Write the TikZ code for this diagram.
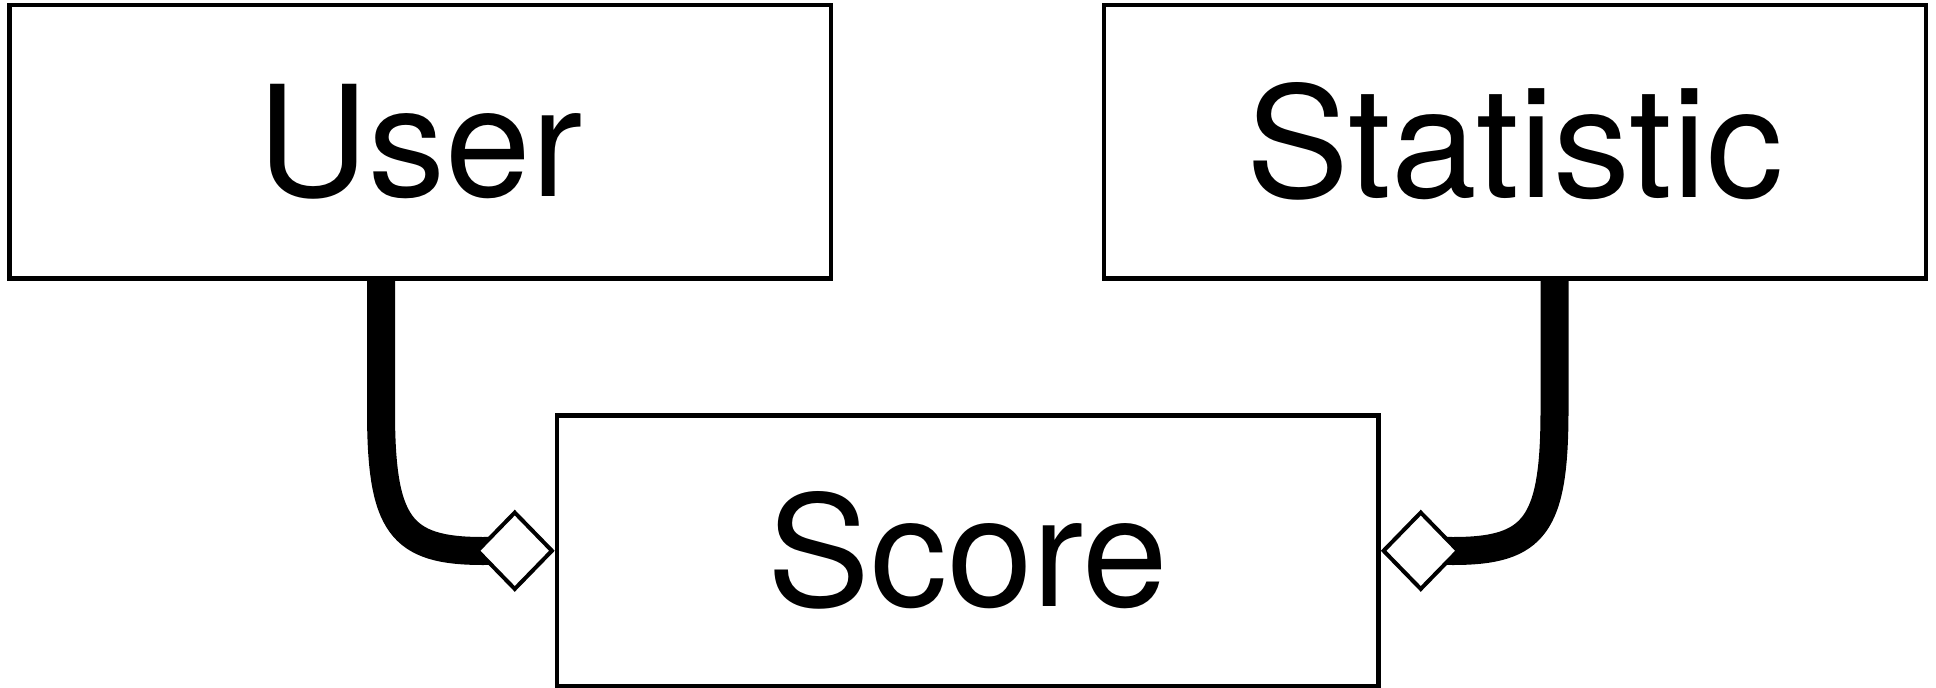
\documentclass[tikz,border=0pt]{standalone}
\usepackage{fontspec}
\setmainfont{TeX Gyre Heros}
\usetikzlibrary{shapes.geometric,backgrounds}
\begin{document}
\begin{tikzpicture}[x=1pt,y=-1pt,
  box/.style={draw=black,line width=4.5pt,fill=white,inner sep=0pt,font=\fontsize{154}{160}\selectfont},
  agg/.style={draw=black,line width=4pt,fill=white,shape=diamond,inner sep=0pt,minimum width=76pt,minimum height=78pt},
  conn/.style={draw=black,line width=28pt,line cap=butt}]
\useasboundingbox (0,0) rectangle (1936,688);
\node[box,minimum width=821.5pt,minimum height=273.5pt] (User) at (420.25,141.75) {User};
\node[box,minimum width=822pt,minimum height=273.5pt] (Statistic) at (1515,141.75) {Statistic};
\node[box,minimum width=821.5pt,minimum height=270.5pt] (Score) at (967.75,550.75) {Score};
\node[agg,anchor=east] (dL) at (Score.west) {};
\node[agg,anchor=west] (dR) at (Score.east) {};
\coordinate (uStart) at (381,276);
\coordinate (sStart) at (1554.5,276);
\begin{pgfonlayer}{background}
\draw[conn] (uStart) -- (381,410) .. controls (381,525) and (400,551) .. (483,551) -- (dL.center);
\draw[conn] (sStart) -- (1554.5,410) .. controls (1554.5,525) and (1535,551) .. (1453,551) -- (dR.center);
\end{pgfonlayer}
\end{tikzpicture}
\end{document}
